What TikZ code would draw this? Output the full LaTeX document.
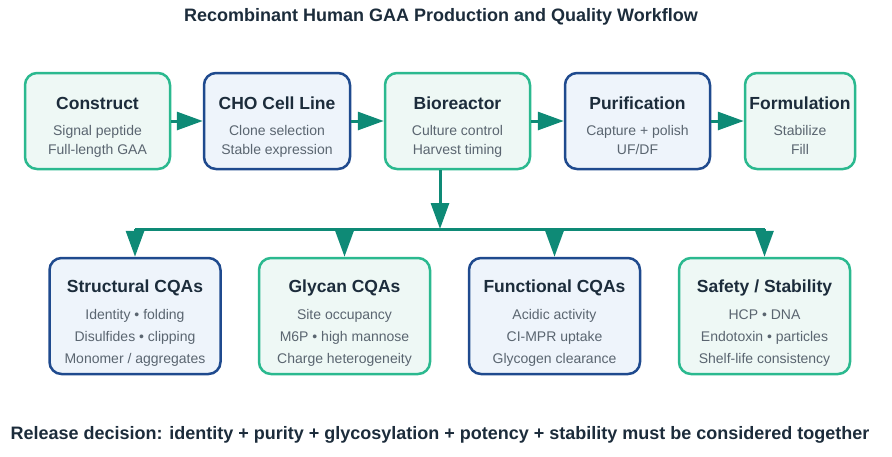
\documentclass[tikz,border=0pt]{standalone}
\usepackage{fontspec}
\setmainfont{Liberation Sans}
\usetikzlibrary{arrows.meta}

\definecolor{tealln}{HTML}{2BB98F}
\definecolor{tealbg}{HTML}{EEF8F5}
\definecolor{navyln}{HTML}{1F4A8E}
\definecolor{navybg}{HTML}{EEF4FB}
\definecolor{flowc}{HTML}{0E8A76}
\definecolor{inkc}{HTML}{1C2C3B}
\definecolor{subc}{HTML}{5A6570}

\tikzset{
  box/.style={rounded corners=12pt, line width=2.5pt},
  head/.style={anchor=base, text=inkc, font=\fontsize{17.5}{20}\selectfont\bfseries},
  sub/.style={anchor=base, text=subc, font=\fontsize{14}{16}\selectfont},
  flow/.style={draw=flowc, line width=3pt, -{Triangle[length=26pt,width=18pt]}},
  bar/.style={draw=flowc, line width=3pt}
}

\begin{document}
\begin{tikzpicture}[x=1pt,y=-1pt]
\useasboundingbox (0,0) rectangle (892,456);

\node[head, font=\fontsize{18}{20}\selectfont\bfseries] (title) at (441,21.5)
  {Recombinant Human GAA Production and Quality Workflow};

% production steps
\foreach \n/\x/\w/\bc/\fc/\h/\a/\b in {
  construct/97.5/145/tealln/tealbg/Construct/Signal peptide/Full-length GAA,
  choline/277/146/navyln/navybg/CHO Cell Line/Clone selection/Stable expression,
  bioreactor/457.5/145/tealln/tealbg/Bioreactor/Culture control/Harvest timing,
  purification/637.5/145/navyln/navybg/Purification/Capture + polish/{UF/DF},
  formulation/800/110/tealln/tealbg/Formulation/Stabilize/Fill}
{
  \node[box, draw=\bc, fill=\fc, minimum width=\w, minimum height=96] (\n) at (\x,121) {};
  \node[head] (\n-h) at (\x,109) {\h};
  \node[sub] (\n-a) at (\x,135) {\a};
  \node[sub] (\n-b) at (\x,154.5) {\b};
}

\foreach \a/\b in {construct/choline, choline/bioreactor,
                   bioreactor/purification, purification/formulation}
  \draw[flow] (\a) -- (\b);

% quality attributes
\foreach \n/\x/\bc/\fc/\h/\a/\b/\c in {
  structural/135/navyln/navybg/Structural CQAs/Identity • folding/Disulfides • clipping/{Monomer / aggregates},
  glycan/344.5/tealln/tealbg/Glycan CQAs/Site occupancy/M6P • high mannose/Charge heterogeneity,
  functional/554.5/navyln/navybg/Functional CQAs/Acidic activity/CI-MPR uptake/Glycogen clearance,
  safety/764.5/tealln/tealbg/{Safety / Stability}/HCP • DNA/Endotoxin • particles/Shelf-life consistency}
{
  \node[box, draw=\bc, fill=\fc, minimum width=171, minimum height=116] (\n) at (\x,316) {};
  \node[head] (\n-h) at (\x,292) {\h};
  \node[sub] (\n-a) at (\x,319) {\a};
  \node[sub] (\n-b) at (\x,341) {\b};
  \node[sub] (\n-c) at (\x,363) {\c};
}

\coordinate (split) at (440,229);
\draw[flow] (bioreactor.south -| split) -- (split);
\draw[bar] (structural.north |- split) -- (safety.north |- split);
\foreach \n in {structural, glycan, functional, safety}
  \draw[flow] (\n.north |- split) -- (\n.north);

\node[head, font=\fontsize{18}{20}\selectfont\bfseries] (release) at (440,439)
  {Release decision: identity + purity + glycosylation + potency + stability must be considered together};
\end{tikzpicture}
\end{document}
